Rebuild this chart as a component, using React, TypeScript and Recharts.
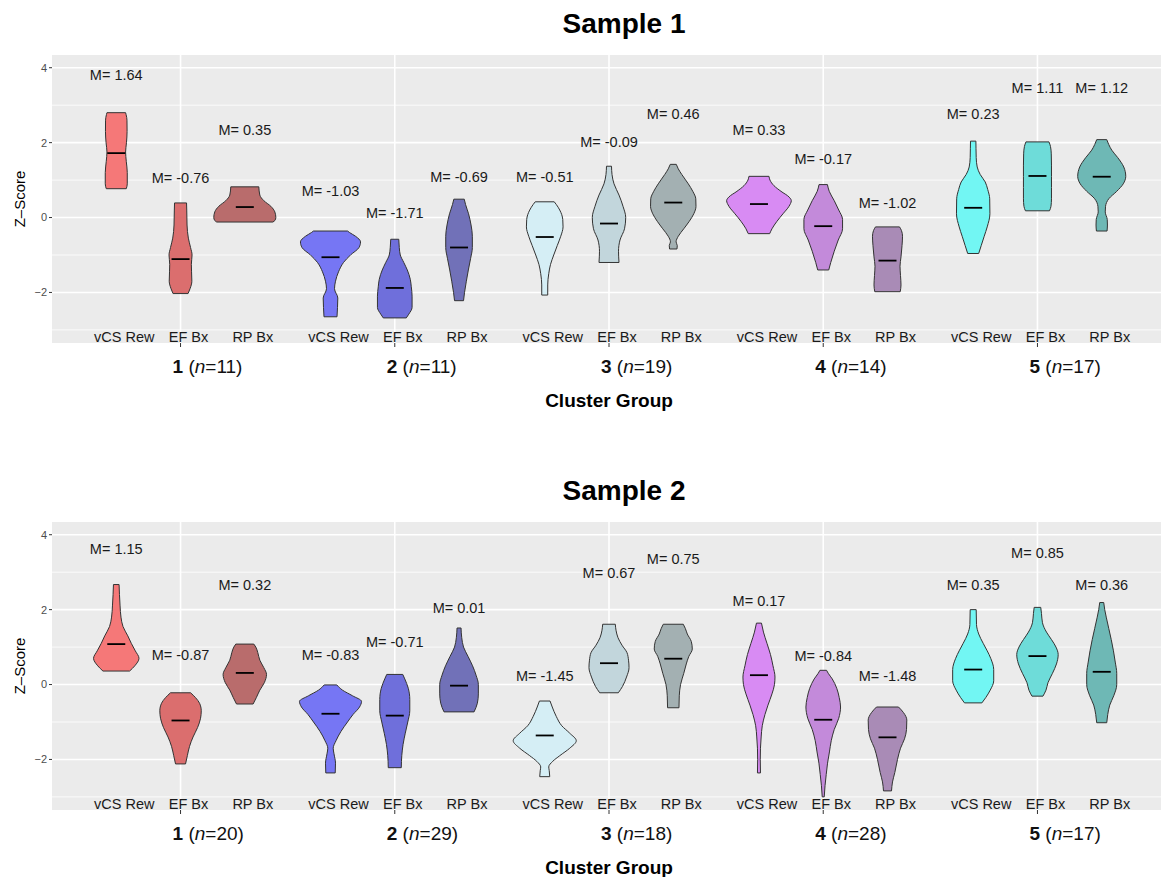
import React from "react";
import {
  ComposedChart,
  Area,
  XAxis,
  YAxis,
  CartesianGrid,
  ReferenceLine,
  ReferenceDot,
} from "recharts";

type Profile = [number, number][]; // [z, density half-width]

const FONT = "'Liberation Sans', Arial, Helvetica, sans-serif";

const clusters = [1, 2, 3, 4, 5];
const measures = ["vCS Rew", "EF Bx", "RP Bx"];

// ---- Sample 1 ----
const s1Counts = [11, 11, 19, 14, 17];
const s1Means = [
  [1.64, -0.76, 0.35],
  [-1.03, -1.71, -0.69],
  [-0.51, -0.09, 0.46],
  [0.33, -0.17, -1.02],
  [0.23, 1.11, 1.12],
];
const s1Medians = [
  [1.72, -1.11, 0.28],
  [-1.06, -1.88, -0.8],
  [-0.52, -0.16, 0.4],
  [0.36, -0.23, -1.15],
  [0.26, 1.11, 1.09],
];
const s1LabelZ = [
  [3.8, 1.06, 2.33],
  [0.7, 0.11, 1.08],
  [1.08, 2.02, 2.77],
  [2.33, 1.55, 0.4],
  [2.77, 3.45, 3.45],
];
const s1Violins: Profile[][] = [
  [
    [[0.77, 10], [0.9, 11], [1.2, 11], [1.5, 10], [1.75, 9.3], [2.0, 10.2], [2.3, 10.8], [2.6, 10.7], [2.75, 9.8], [2.8, 9.3]],
    [[-2.03, 7.5], [-1.9, 9.5], [-1.7, 11.3], [-1.45, 11], [-1.25, 10.8], [-1.0, 11.5], [-0.8, 10], [-0.55, 7.8], [-0.2, 6.5], [0.2, 6.2], [0.39, 6]],
    [[-0.12, 28], [-0.08, 30], [0.0, 31], [0.15, 30], [0.3, 26], [0.45, 19], [0.6, 15], [0.82, 14]],
  ],
  [
    [[-2.65, 6.5], [-2.4, 7], [-2.15, 7.3], [-1.9, 4], [-1.7, 5], [-1.45, 8], [-1.2, 13], [-1.0, 20], [-0.8, 28.5], [-0.65, 30], [-0.5, 25], [-0.4, 19], [-0.36, 17]],
    [[-2.68, 11.5], [-2.58, 14], [-2.4, 17.3], [-2.1, 17.3], [-1.85, 16.5], [-1.65, 15.5], [-1.4, 12.5], [-1.2, 9], [-1.0, 5.5], [-0.8, 4.5], [-0.58, 4]],
    [[-2.22, 4.5], [-2.0, 5.5], [-1.7, 7.3], [-1.4, 9.3], [-1.1, 11.5], [-0.8, 13.3], [-0.5, 13.3], [-0.2, 12], [0.1, 9.5], [0.35, 6.5], [0.49, 5.2]],
  ],
  [
    [[-2.07, 3], [-1.8, 3], [-1.5, 4], [-1.25, 5.8], [-1.0, 9], [-0.75, 12.5], [-0.5, 16], [-0.25, 18.3], [-0.05, 18], [0.2, 15], [0.35, 11.5], [0.42, 9.5]],
    [[-1.2, 10], [-0.9, 9.5], [-0.6, 11], [-0.3, 15.5], [0.0, 16.7], [0.3, 14], [0.6, 10], [0.9, 5], [1.15, 3], [1.37, 2.5]],
    [[-0.84, 3.7], [-0.75, 4], [-0.65, 2.8], [-0.5, 5], [-0.3, 10.5], [-0.1, 16], [0.1, 20.5], [0.3, 22.7], [0.5, 22.5], [0.7, 19.5], [0.9, 15], [1.15, 8.5], [1.3, 5], [1.42, 3]],
  ],
  [
    [[-0.43, 10.7], [-0.3, 13], [-0.1, 18], [0.1, 24], [0.3, 30], [0.45, 32.3], [0.55, 30], [0.7, 22], [0.85, 15], [1.0, 11], [1.1, 10]],
    [[-1.4, 5.5], [-1.2, 7.5], [-0.9, 11], [-0.6, 15], [-0.3, 19.3], [-0.05, 19.3], [0.2, 15.5], [0.45, 11], [0.7, 6], [0.88, 4.2]],
    [[-1.98, 12.7], [-1.8, 13.5], [-1.55, 13], [-1.3, 12.5], [-1.05, 13.5], [-0.75, 14.5], [-0.5, 15], [-0.35, 14], [-0.25, 12]],
  ],
  [
    [[-0.96, 5.5], [-0.75, 8], [-0.5, 11], [-0.25, 14], [0.1, 16.7], [0.5, 16.5], [0.75, 14.5], [0.95, 12], [1.15, 7], [1.35, 4], [1.6, 3], [1.85, 2.8], [2.04, 2.7]],
    [[0.18, 12], [0.3, 13.5], [0.5, 14], [0.8, 14], [1.1, 14], [1.4, 14], [1.7, 13.8], [1.9, 13], [2.02, 11.5]],
    [[-0.36, 5.3], [-0.2, 5.7], [-0.05, 5.5], [0.15, 3.5], [0.3, 3.8], [0.5, 7], [0.7, 15], [0.9, 21.5], [1.1, 24], [1.35, 22], [1.6, 16], [1.8, 10], [1.95, 7], [2.08, 5]],
  ],
];

// ---- Sample 2 ----
const s2Counts = [20, 29, 18, 28, 17];
const s2Means = [
  [1.15, -0.87, 0.32],
  [-0.83, -0.71, 0.01],
  [-1.45, 0.67, 0.75],
  [0.17, -0.84, -1.48],
  [0.35, 0.85, 0.36],
];
const s2Medians = [
  [1.08, -0.96, 0.31],
  [-0.78, -0.83, -0.03],
  [-1.36, 0.57, 0.69],
  [0.25, -0.94, -1.41],
  [0.4, 0.76, 0.34],
];
const s2LabelZ = [
  [3.62, 0.78, 2.65],
  [0.78, 1.14, 2.04],
  [0.24, 2.98, 3.35],
  [2.22, 0.77, 0.24],
  [2.67, 3.51, 2.65],
];
const s2Violins: Profile[][] = [
  [
    [[0.36, 13.3], [0.5, 18.5], [0.7, 22.7], [0.9, 19], [1.1, 15], [1.3, 11.5], [1.55, 6.7], [1.8, 4.7], [2.1, 3.8], [2.4, 3.2], [2.67, 2.8]],
    [[-2.12, 5], [-1.9, 6.8], [-1.65, 9], [-1.4, 12.5], [-1.15, 17], [-0.9, 20], [-0.7, 20.7], [-0.5, 19], [-0.35, 15], [-0.22, 10]],
    [[-0.52, 8.3], [-0.35, 11.5], [-0.15, 15], [0.05, 19.5], [0.27, 21.7], [0.45, 19], [0.65, 15], [0.85, 13], [1.0, 11], [1.08, 9]],
  ],
  [
    [[-2.36, 4.7], [-2.1, 5], [-1.85, 3.5], [-1.7, 2.7], [-1.5, 5.5], [-1.25, 10.5], [-1.0, 17], [-0.8, 22.5], [-0.6, 29], [-0.45, 31], [-0.3, 22], [-0.15, 12], [-0.01, 6.3]],
    [[-2.22, 6.5], [-1.9, 7], [-1.6, 8.3], [-1.3, 10.5], [-1.0, 13], [-0.7, 15], [-0.4, 15], [-0.1, 13.5], [0.15, 10], [0.27, 8]],
    [[-0.73, 15], [-0.5, 18.3], [-0.25, 19.3], [0.0, 19.3], [0.25, 17], [0.5, 13.5], [0.75, 9], [1.0, 4.5], [1.25, 2.7], [1.51, 2]],
  ],
  [
    [[-2.46, 5], [-2.3, 4.5], [-2.2, 4], [-2.05, 8], [-1.9, 15], [-1.7, 25], [-1.5, 31.5], [-1.3, 25], [-1.1, 17], [-0.85, 11.5], [-0.6, 7.5], [-0.44, 5.3]],
    [[-0.22, 9.3], [-0.05, 13.5], [0.2, 17.5], [0.45, 20], [0.65, 19.5], [0.85, 18], [1.05, 13], [1.25, 9], [1.45, 7], [1.61, 6.3]],
    [[-0.62, 5.7], [-0.3, 6], [0.0, 7.3], [0.3, 10.5], [0.55, 13], [0.75, 15.5], [0.95, 19], [1.15, 18], [1.35, 14], [1.5, 12], [1.61, 10]],
  ],
  [
    [[-2.36, 1.5], [-2.0, 1.3], [-1.7, 1.5], [-1.4, 2.2], [-1.1, 3.3], [-0.8, 6], [-0.55, 9], [-0.25, 13], [0.0, 15.5], [0.2, 16], [0.5, 14], [0.8, 11.5], [1.1, 8], [1.4, 4.5], [1.64, 2.5]],
    [[-3.0, 1], [-2.7, 1.8], [-2.4, 3], [-2.1, 4.3], [-1.8, 6.2], [-1.5, 8], [-1.2, 11], [-0.9, 15.5], [-0.6, 17.3], [-0.35, 16], [-0.1, 13.5], [0.15, 9], [0.3, 5], [0.38, 3.3]],
    [[-2.84, 4], [-2.6, 5], [-2.35, 7.3], [-2.0, 10], [-1.7, 13], [-1.45, 17], [-1.2, 19], [-0.95, 19.3], [-0.75, 16], [-0.6, 11]],
  ],
  [
    [[-0.49, 8.7], [-0.35, 12.5], [-0.15, 17], [0.1, 20.5], [0.4, 20.5], [0.7, 17.5], [0.9, 14], [1.1, 10], [1.35, 5.5], [1.6, 3.3], [2.0, 3]],
    [[-0.31, 5.5], [-0.15, 8.5], [0.05, 10.5], [0.3, 15], [0.55, 19], [0.8, 20.7], [1.0, 18.5], [1.2, 14], [1.4, 9], [1.65, 5], [1.9, 4], [2.06, 3.3]],
    [[-1.02, 5], [-0.8, 6], [-0.55, 8], [-0.3, 12], [0.0, 15], [0.3, 15], [0.6, 13.5], [0.9, 11.7], [1.2, 9.5], [1.5, 7], [1.8, 4.5], [2.0, 3], [2.19, 2]],
  ],
];

// fill per cluster / measure
const fills = [
  ["#F57878", "#DB6E6E", "#B96C6C"],
  ["#7676F4", "#6F6FDB", "#7171B8"],
  ["#D5EEF5", "#C2D6DC", "#A3B0B2"],
  ["#D88BF3", "#C38ADA", "#A98BB6"],
  ["#72F6F3", "#6EDCD9", "#6EB8B5"],
];

// layout constants
const DODGE = [-0.3, 0, 0.3];
const WIDTH_SCALE = 1 / 214;
const MEDIAN_HALF = 0.042;
const X_DOMAIN: [number, number] = [0.4, 5.6];
const Z_DOMAIN: [number, number] = [-3.35, 4.34];
const MEASURE_Z = -3.18;
const OUTLINE = "#333333";

const textAt =
  (text: string, dx = 0, size = 14.5) =>
  (props: any) => {
    const vb = props.viewBox || {};
    const cx = (vb.x ?? 0) + (vb.width ?? 0) / 2 + dx;
    const cy = (vb.y ?? 0) + (vb.height ?? 0) / 2;
    return (
      <text
        x={cx}
        y={cy}
        textAnchor="middle"
        dominantBaseline="central"
        fontSize={size}
        fontFamily={FONT}
        fill="#1a1a1a"
      >
        {text}
      </text>
    );
  };

const yTitle = (props: any) => {
  const vb = props.viewBox || {};
  const cx = (vb.x ?? 0) + 19;
  const cy = (vb.y ?? 0) + (vb.height ?? 0) / 2;
  return (
    <text
      x={cx}
      y={cy}
      transform={`rotate(-90 ${cx} ${cy})`}
      textAnchor="middle"
      dominantBaseline="central"
      fontSize={15}
      fontFamily={FONT}
      fill="#000"
    >
      Z–Score
    </text>
  );
};

const xTitle = (props: any) => {
  const vb = props.viewBox || {};
  return (
    <text
      x={(vb.x ?? 0) + (vb.width ?? 0) / 2}
      y={(vb.y ?? 0) + 64}
      textAnchor="middle"
      fontSize={19}
      fontWeight="bold"
      fontFamily={FONT}
      fill="#000"
    >
      Cluster Group
    </text>
  );
};

const ClusterTick = (props: any) => {
  const { x, y, payload, counts } = props;
  const i = clusters.indexOf(payload.value);
  return (
    <text x={x - 8} y={y + 24} fontSize={19} fontFamily={FONT} fill="#111">
      <tspan fontWeight="bold">{payload.value}</tspan>
      <tspan>{" ("}</tspan>
      <tspan fontStyle="italic">n</tspan>
      <tspan>{`=${counts[i]})`}</tspan>
    </text>
  );
};

type PanelProps = {
  top: number;
  title: string;
  counts: number[];
  means: number[][];
  medians: number[][];
  labelZ: number[][];
  violins: Profile[][];
};

function Panel({ top, title, counts, means, medians, labelZ, violins }: PanelProps) {
  const items = clusters.flatMap((c, ci) =>
    measures.map((name, mi) => ({
      key: `${ci}-${mi}`,
      x: c + DODGE[mi],
      name,
      prof: violins[ci][mi],
      fill: fills[ci][mi],
      mean: means[ci][mi],
      median: medians[ci][mi],
      lz: labelZ[ci][mi],
    }))
  );

  return (
    <div style={{ position: "absolute", left: 0, top, width: 1170, height: 413 }}>
      <div
        style={{
          position: "absolute",
          left: 0,
          top: 9.5,
          width: 1248,
          textAlign: "center",
          font: `bold 28px ${FONT}`,
          lineHeight: "28px",
          color: "#000",
        }}
      >
        {title}
      </div>
      <ComposedChart
        layout="vertical"
        width={1170}
        height={413}
        margin={{ top: 55, right: 4, left: 0, bottom: 0 }}
      >
        {/* panel background + minor grid */}
        <CartesianGrid
          fill="#EBEBEB"
          stroke="#FFFFFF"
          strokeWidth={0.8}
          horizontalValues={[-3, -1, 1, 3]}
          vertical={false}
        />
        {/* major grid */}
        <CartesianGrid
          stroke="#FFFFFF"
          strokeWidth={1.6}
          horizontalValues={[-2, 0, 2, 4]}
          verticalValues={clusters}
        />

        <XAxis
          type="number"
          domain={X_DOMAIN}
          allowDataOverflow
          ticks={clusters}
          interval={0}
          height={70}
          axisLine={false}
          tickSize={4}
          tickLine={{ stroke: OUTLINE }}
          tick={<ClusterTick counts={counts} />}
          label={xTitle}
        />
        <YAxis
          type="number"
          dataKey="z"
          domain={Z_DOMAIN}
          allowDataOverflow
          reversed
          ticks={[-2, 0, 2, 4]}
          interval={0}
          width={52}
          axisLine={false}
          tickSize={3}
          tickLine={{ stroke: OUTLINE }}
          tick={{ fill: "#4D4D4D", fontSize: 11, fontFamily: FONT }}
          tickFormatter={(v) => String(v).replace("-", "\u2212")}
          label={yTitle}
        />

        {/* violin bodies */}
        {items.map((it) => (
          <Area
            key={`a${it.key}`}
            data={it.prof.map(([z, w]) => ({
              z,
              range: [it.x - w * WIDTH_SCALE, it.x + w * WIDTH_SCALE],
            }))}
            dataKey="range"
            type="monotone"
            fill={it.fill}
            fillOpacity={1}
            stroke={OUTLINE}
            strokeWidth={1}
            dot={false}
            activeDot={false}
            isAnimationActive={false}
          />
        ))}

        {/* flat trimmed ends of each violin */}
        {items.flatMap((it) => {
          const [z0, w0] = it.prof[0];
          const [z1, w1] = it.prof[it.prof.length - 1];
          return [
            <ReferenceLine
              key={`b${it.key}`}
              segment={[
                { x: it.x - w0 * WIDTH_SCALE, y: z0 },
                { x: it.x + w0 * WIDTH_SCALE, y: z0 },
              ]}
              stroke={OUTLINE}
              strokeWidth={1}
            />,
            <ReferenceLine
              key={`t${it.key}`}
              segment={[
                { x: it.x - w1 * WIDTH_SCALE, y: z1 },
                { x: it.x + w1 * WIDTH_SCALE, y: z1 },
              ]}
              stroke={OUTLINE}
              strokeWidth={1}
            />,
          ];
        })}

        {/* medians */}
        {items.map((it) => (
          <ReferenceLine
            key={`m${it.key}`}
            segment={[
              { x: it.x - MEDIAN_HALF, y: it.median },
              { x: it.x + MEDIAN_HALF, y: it.median },
            ]}
            stroke="#000"
            strokeWidth={1.8}
          />
        ))}

        {/* mean labels */}
        {items.map((it) => (
          <ReferenceDot
            key={`l${it.key}`}
            x={it.x}
            y={it.lz}
            r={0}
            fill="none"
            stroke="none"
            label={textAt(`M= ${it.mean.toFixed(2)}`)}
          />
        ))}

        {/* measure names inside the panel */}
        {items.map((it) => (
          <ReferenceDot
            key={`n${it.key}`}
            x={it.x}
            y={MEASURE_Z}
            r={0}
            fill="none"
            stroke="none"
            label={textAt(it.name, 8)}
          />
        ))}
      </ComposedChart>
    </div>
  );
}

export default function App() {
  return (
    <div
      style={{
        position: "absolute",
        left: 0,
        top: 0,
        width: 1161,
        height: 877,
        overflow: "hidden",
        background: "#fff",
        fontFamily: FONT,
      }}
    >
      <Panel
        top={0}
        title="Sample 1"
        counts={s1Counts}
        means={s1Means}
        medians={s1Medians}
        labelZ={s1LabelZ}
        violins={s1Violins}
      />
      <Panel
        top={467}
        title="Sample 2"
        counts={s2Counts}
        means={s2Means}
        medians={s2Medians}
        labelZ={s2LabelZ}
        violins={s2Violins}
      />
    </div>
  );
}
